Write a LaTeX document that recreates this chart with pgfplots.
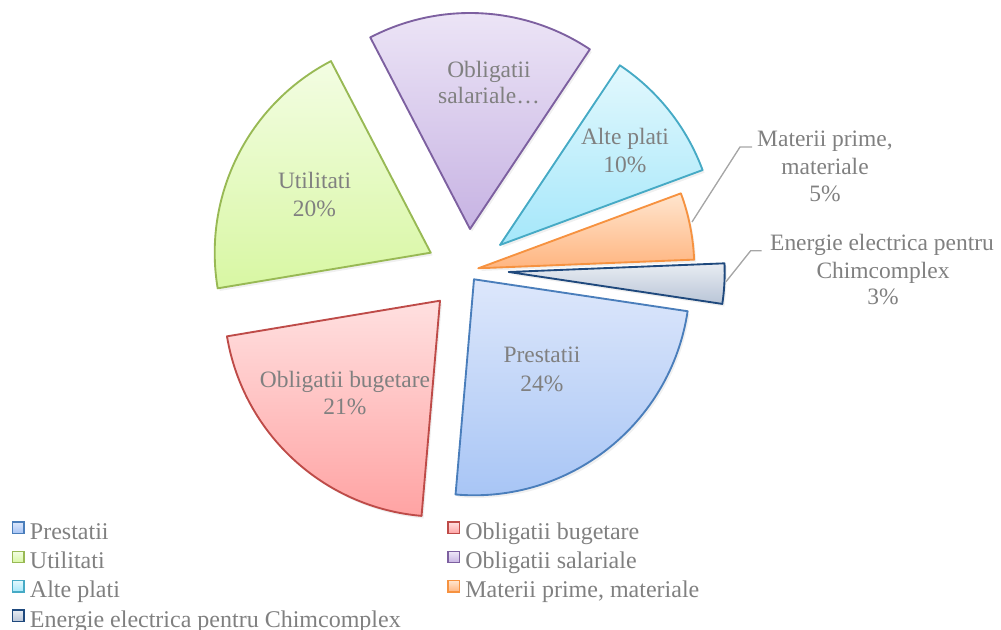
\documentclass[border=0pt]{standalone}
\usepackage{fontspec}
\setmainfont{Liberation Serif}
\usepackage{pgfplots}
\usepackage{pgfplotstable}
\pgfplotsset{compat=1.18}
\usetikzlibrary{shadows}

% slice colours: top / bottom of gradient, edge
\definecolor{t0}{RGB}{221,231,251}\definecolor{b0}{RGB}{166,196,245}\definecolor{e0}{RGB}{74,126,187}
\definecolor{t1}{RGB}{255,224,224}\definecolor{b1}{RGB}{255,163,163}\definecolor{e1}{RGB}{190,75,72}
\definecolor{t2}{RGB}{243,253,227}\definecolor{b2}{RGB}{216,247,163}\definecolor{e2}{RGB}{152,185,84}
\definecolor{t3}{RGB}{238,231,247}\definecolor{b3}{RGB}{199,179,227}\definecolor{e3}{RGB}{125,96,160}
\definecolor{t4}{RGB}{226,248,253}\definecolor{b4}{RGB}{165,231,250}\definecolor{e4}{RGB}{70,170,197}
\definecolor{t5}{RGB}{255,229,206}\definecolor{b5}{RGB}{255,181,128}\definecolor{e5}{RGB}{246,146,64}
\definecolor{t6}{RGB}{232,236,242}\definecolor{b6}{RGB}{185,197,215}\definecolor{e6}{RGB}{31,73,125}
\definecolor{txtgray}{RGB}{128,128,128}
\definecolor{leadgray}{RGB}{166,166,166}

\tikzset{
  s0/.style={top color=t0,bottom color=b0,draw=e0},
  s1/.style={top color=t1,bottom color=b1,draw=e1},
  s2/.style={top color=t2,bottom color=b2,draw=e2},
  s3/.style={top color=t3,bottom color=b3,draw=e3},
  s4/.style={top color=t4,bottom color=b4,draw=e4},
  s5/.style={top color=t5,bottom color=b5,draw=e5},
  s6/.style={top color=t6,bottom color=b6,draw=e6},
}

% share (%), tip of each exploded slice (px, y down)
\pgfplotstableread{
idx val tx    ty
0   24  474.0 279.3
1   21  440.0 300.7
2   20  430.7 252.7
3   17  470.0 229.0
4   10  500.0 245.0
5   5   478.3 268.3
6   3   508.7 272.0
}\slices

\newcommand\lblfont{\fontsize{17.6}{20}\selectfont}
\newcommand\legfont{\fontsize{18}{20}\selectfont}
\newcommand\lab[3]{\node[anchor=base,text=txtgray,font=\lblfont,inner sep=0pt] at (axis cs:#1,#2) {#3};}

\begin{document}
\begin{tikzpicture}
\useasboundingbox (0,0) rectangle (750.75pt,472.5pt);
\clip (0,0) rectangle (750.75pt,472.5pt);
\begin{axis}[at={(0,0)},anchor=south west,
  width=750.75pt,height=472.5pt,scale only axis,
  xmin=0,xmax=1001,ymin=0,ymax=630,y dir=reverse,
  hide axis,clip=false,
  legend columns=2,legend cell align=left,
  legend image code/.code={\path[#1,line width=1pt] (0pt,-0.5pt) rectangle (8.5pt,8pt);},
  legend style={draw=none,fill=none,inner sep=0pt,outer sep=0pt,
    at={(axis cs:12,518)},anchor=north west,
    font=\legfont,text=txtgray,row sep=0pt,
    nodes={inner sep=1pt,text height=15pt,text depth=5pt},
    /tikz/every odd column/.append style={column sep=3pt},
    /tikz/every even column/.append style={column sep=34pt}}]

\def\cum{-8.5}
\pgfplotsinvokeforeach{0,...,6}{
  \pgfplotstablegetelem{#1}{val}\of\slices \let\v\pgfplotsretval
  \pgfplotstablegetelem{#1}{tx}\of\slices \let\tx\pgfplotsretval
  \pgfplotstablegetelem{#1}{ty}\of\slices \let\ty\pgfplotsretval
  \pgfmathsetmacro\aa{\cum}
  \pgfmathsetmacro\ab{\cum-3.6*\v}
  \xdef\cum{\ab}
  \pgfmathsetmacro\sx{\tx+216*cos(\aa)}
  \pgfmathsetmacro\sy{\ty-216*sin(\aa)}
  \edef\doit{\noexpand\path[s#1,line width=1.4pt,line join=round,
      drop shadow={shadow xshift=1.5pt,shadow yshift=-2pt,opacity=0.12}]
    (axis cs:\tx,\ty) -- (axis cs:\sx,\sy)
    arc[start angle=\aa,end angle=\ab,radius=162pt] -- cycle;}
  \doit
}

\addlegendimage{s0}\addlegendentry{Prestatii}
\addlegendimage{s1}\addlegendentry{Obligatii bugetare}
\addlegendimage{s2}\addlegendentry{Utilitati}
\addlegendimage{s3}\addlegendentry{Obligatii salariale}
\addlegendimage{s4}\addlegendentry{Alte plati}
\addlegendimage{s5}\addlegendentry{Materii prime, materiale}
\addlegendimage{s6}\addlegendentry{Energie electrica pentru Chimcomplex}

% leader lines
\draw[leadgray,line width=1pt] (axis cs:692,222) -- (axis cs:740,147) -- (axis cs:752,147);
\draw[leadgray,line width=1pt] (axis cs:726,281.7) -- (axis cs:750.7,250.7) -- (axis cs:761.7,250.7);

% data labels
\lab{542}{363}{Prestatii}\lab{542}{392}{24\%}
\lab{345}{388}{Obligatii bugetare}\lab{345}{415}{21\%}
\lab{314.5}{189}{Utilitati}\lab{314.5}{216.7}{20\%}
\lab{489}{77.3}{Obligatii}\lab{489}{104}{salariale…}
\lab{625}{145}{Alte plati}\lab{625}{172.7}{10\%}
\lab{825}{146.7}{Materii prime,}\lab{825}{175}{materiale}\lab{825}{201.7}{5\%}
\lab{882}{250.7}{Energie electrica pentru}\lab{883}{278.3}{Chimcomplex}\lab{883}{305}{3\%}
\end{axis}
\end{tikzpicture}
\end{document}
